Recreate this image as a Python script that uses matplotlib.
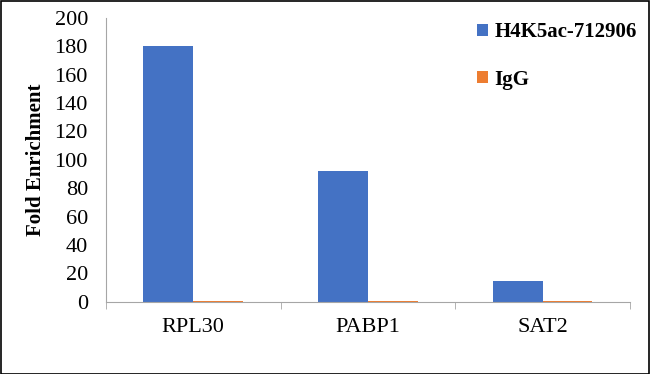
import numpy as np
import matplotlib.pyplot as plt
from matplotlib.patches import Rectangle

# data
genes = ['RPL30', 'PABP1', 'SAT2']
h4k5ac = [180.3, 92.0, 14.5]
igg = [0.9, 0.8, 0.8]
series_names = ['H4K5ac-712906', 'IgG']

blue = '#4472C4'
orange = '#ED7D31'

plt.rcParams['font.family'] = ['Liberation Serif', 'DejaVu Serif']

fig = plt.figure(figsize=(6.5, 3.74), dpi=100)
ax = fig.add_axes([0.163, 0.193, 0.806, 0.759])

x = np.arange(len(genes))
w = 0.285
ax.bar(x - w / 2, h4k5ac, w, color=blue, label=series_names[0])
ax.bar(x + w / 2, igg, w, color=orange, label=series_names[1])

ax.set_xlim(-0.5, len(genes) - 0.5)
ax.set_ylim(0, 200)
ax.set_yticks(np.arange(0, 201, 20))
ax.tick_params(axis='y', length=0, labelsize=16, pad=13)

# category labels centred, tick marks at category boundaries
ax.set_xticks(x)
ax.set_xticklabels(genes, fontsize=16)
ax.tick_params(axis='x', which='major', length=0, pad=12)
ax.set_xticks(np.arange(-0.5, len(genes), 1), minor=True)
ax.tick_params(axis='x', which='minor', length=5, color='#A6A6A6')

for s in ['top', 'right']:
    ax.spines[s].set_visible(False)
ax.spines['left'].set_color('#A6A6A6')
ax.spines['bottom'].set_color('#A6A6A6')

ax.set_ylabel('Fold Enrichment', fontsize=15, fontweight='bold', labelpad=6)

ax.legend(loc='upper left', bbox_to_anchor=(0.705, 0.99), bbox_transform=fig.transFigure,
          frameon=False, prop={'weight': 'bold', 'size': 15},
          handlelength=0.55, handleheight=0.55, handletextpad=0.3, labelspacing=1.3)

# thin frame around the whole picture
fig.patches.append(Rectangle((0.001, 0.001), 0.997, 0.996, transform=fig.transFigure,
                             fill=False, edgecolor='black', linewidth=1.2))

fig.savefig('out.png', dpi=100)
